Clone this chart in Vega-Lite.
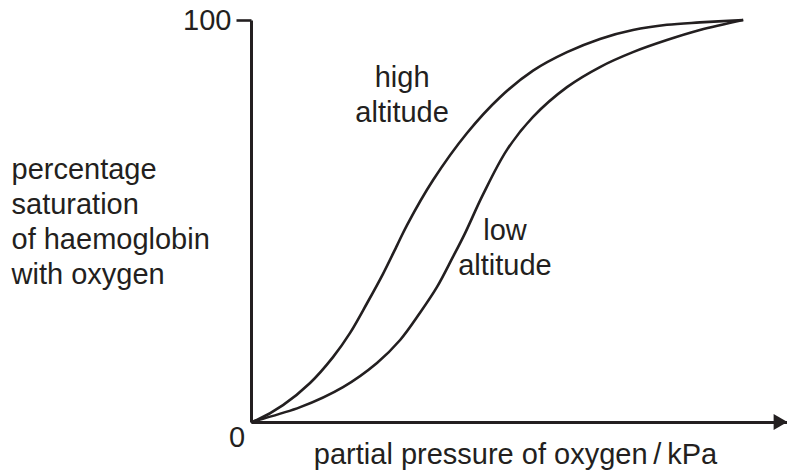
{
  "$schema": "https://vega.github.io/schema/vega-lite/v6.json",
  "autosize": {"type": "none"},
  "width": 536,
  "height": 402,
  "padding": {"left": 251, "top": 20, "right": 0, "bottom": 48},
  "background": "white",
  "config": {
    "view": {"stroke": null},
    "font": "Liberation Sans",
    "text": {"font": "Liberation Sans"}
  },
  "datasets": {
    "curves": [
      {"series": "high", "p": 0, "s": 0},
      {"series": "high", "p": 1.2, "s": 0.5},
      {"series": "high", "p": 6.5, "s": 4.2},
      {"series": "high", "p": 12.0, "s": 9.7},
      {"series": "high", "p": 16.7, "s": 16.2},
      {"series": "high", "p": 20.1, "s": 22.1},
      {"series": "high", "p": 23.6, "s": 29.6},
      {"series": "high", "p": 26.8, "s": 36.8},
      {"series": "high", "p": 29.7, "s": 44.0},
      {"series": "high", "p": 31.7, "s": 49.0},
      {"series": "high", "p": 37.0, "s": 60.2},
      {"series": "high", "p": 43.9, "s": 71.9},
      {"series": "high", "p": 50.6, "s": 80.8},
      {"series": "high", "p": 57.3, "s": 87.4},
      {"series": "high", "p": 64.2, "s": 92.0},
      {"series": "high", "p": 70.9, "s": 95.3},
      {"series": "high", "p": 77.6, "s": 97.5},
      {"series": "high", "p": 84.5, "s": 98.8},
      {"series": "high", "p": 91.2, "s": 99.4},
      {"series": "high", "p": 100, "s": 100},
      {"series": "low", "p": 0, "s": 0},
      {"series": "low", "p": 1.2, "s": 0.4},
      {"series": "low", "p": 10.0, "s": 3.7},
      {"series": "low", "p": 18.7, "s": 8.7},
      {"series": "low", "p": 25.6, "s": 14.7},
      {"series": "low", "p": 30.3, "s": 20.4},
      {"series": "low", "p": 34.3, "s": 27.1},
      {"series": "low", "p": 37.8, "s": 33.6},
      {"series": "low", "p": 41.0, "s": 41.0},
      {"series": "low", "p": 43.5, "s": 47.0},
      {"series": "low", "p": 47.1, "s": 56.5},
      {"series": "low", "p": 52.0, "s": 67.7},
      {"series": "low", "p": 57.3, "s": 75.9},
      {"series": "low", "p": 64.2, "s": 83.3},
      {"series": "low", "p": 70.9, "s": 88.3},
      {"series": "low", "p": 77.6, "s": 92.0},
      {"series": "low", "p": 84.5, "s": 95.0},
      {"series": "low", "p": 91.2, "s": 97.5},
      {"series": "low", "p": 100, "s": 100}
    ],
    "labels": [
      {"p": 30.7, "s": 83.3, "label": "high\naltitude"},
      {"p": 51.6, "s": 45.3, "label": "low\naltitude"}
    ],
    "origin": [{"p": 0, "s": 0, "label": "0"}],
    "arrow": [{"p": 107.6, "s": 0}]
  },
  "layer": [
    {
      "data": {"name": "curves"},
      "mark": {"type": "line", "interpolate": "catmull-rom", "color": "#231f20", "strokeWidth": 2.6, "clip": false},
      "encoding": {
        "x": {
          "field": "p", "type": "quantitative",
          "scale": {"domain": [0, 108.9], "nice": false, "zero": false},
          "axis": {
            "ticks": false, "labels": false, "grid": false,
            "domainColor": "#231f20", "domainWidth": 3,
            "title": "partial pressure of oxygen\u2009/\u2009kPa",
            "titleFont": "Liberation Sans", "titleFontSize": 29, "titleFontWeight": "normal",
            "titleColor": "#231f20", "titleX": 264, "titleY": 41,
            "titleBaseline": "alphabetic", "titleAnchor": "start", "titleAlign": "center"
          }
        },
        "y": {
          "field": "s", "type": "quantitative",
          "scale": {"domain": [0, 100], "nice": false},
          "axis": {
            "values": [100], "grid": false,
            "tickSize": 15, "tickWidth": 2.6, "tickColor": "#231f20",
            "domainColor": "#231f20", "domainWidth": 3,
            "labelFont": "Liberation Sans", "labelFontSize": 29, "labelColor": "#231f20",
            "labelPadding": 5,
            "title": ["percentage", "saturation", "of haemoglobin", "with oxygen"],
            "titleFont": "Liberation Sans", "titleFontSize": 29, "titleFontWeight": "normal",
            "titleColor": "#231f20", "titleAngle": 0, "titleAlign": "left",
            "titleBaseline": "alphabetic", "titleX": -240, "titleY": 158,
            "titleLineHeight": 35, "titleAnchor": "start"
          }
        },
        "detail": {"field": "series"}
      }
    },
    {
      "data": {"name": "labels"},
      "mark": {"type": "text", "font": "Liberation Sans", "fontSize": 29, "color": "#231f20", "align": "center", "baseline": "alphabetic", "lineBreak": "\n", "lineHeight": 35},
      "encoding": {
        "x": {"field": "p", "type": "quantitative"},
        "y": {"field": "s", "type": "quantitative"},
        "text": {"field": "label"}
      }
    },
    {
      "data": {"name": "origin"},
      "mark": {"type": "text", "font": "Liberation Sans", "fontSize": 29, "color": "#231f20", "align": "center", "baseline": "alphabetic", "dx": -14, "dy": 25, "clip": false},
      "encoding": {
        "x": {"field": "p", "type": "quantitative"},
        "y": {"field": "s", "type": "quantitative"},
        "text": {"field": "label"}
      }
    },
    {
      "data": {"name": "arrow"},
      "mark": {"type": "point", "shape": "triangle-right", "filled": true, "color": "#231f20", "size": 260, "opacity": 1, "clip": false},
      "encoding": {
        "x": {"field": "p", "type": "quantitative"},
        "y": {"field": "s", "type": "quantitative"}
      }
    }
  ]
}
